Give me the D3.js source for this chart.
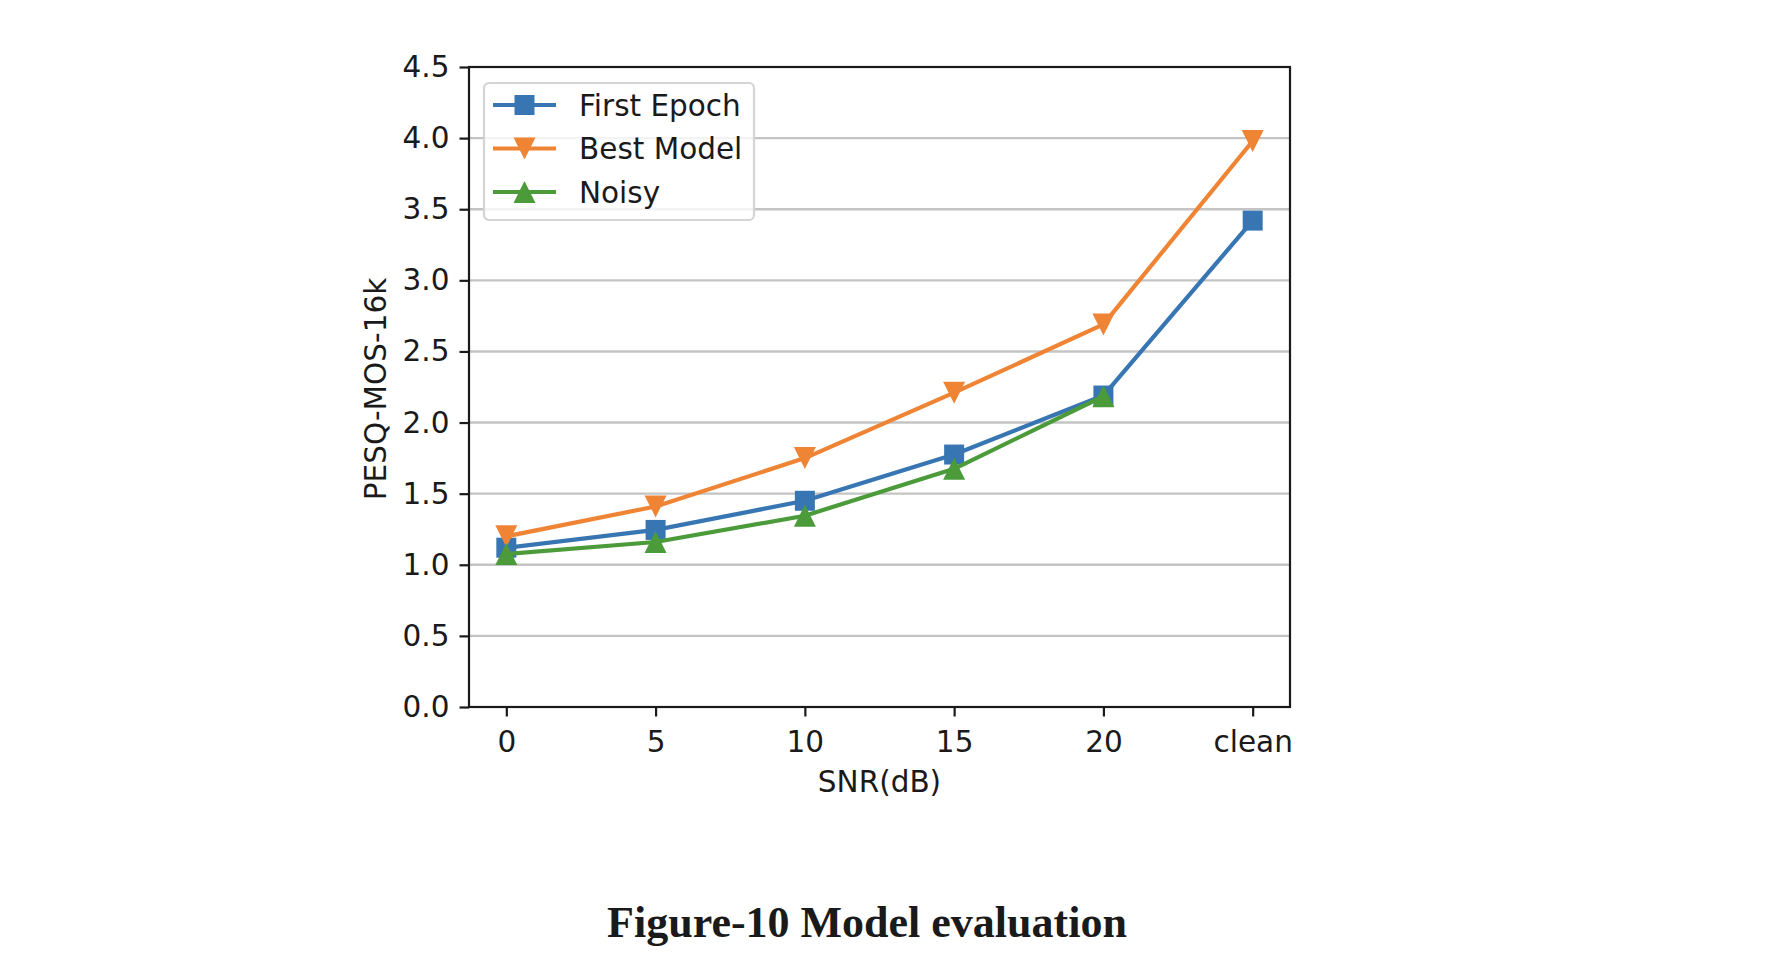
<!DOCTYPE html>
<html>
<head>
<meta charset="utf-8">
<script src="https://cdn.jsdelivr.net/npm/d3@7"></script>
<style>
  body { margin: 0; background: #fff; }
  text { font-family: "DejaVu Sans", sans-serif; fill: #1a1a1a; }
</style>
</head>
<body>
<div id="chart"></div>
<script>

// chart values
var categories = ["0", "5", "10", "15", "20", "clean"];
var firstEpoch = [1.12, 1.245, 1.45, 1.775, 2.19, 3.42];
var bestModel  = [1.2, 1.41, 1.75, 2.21, 2.69, 3.98];
var noisy      = [1.075, 1.16, 1.345, 1.675, 2.185];
var yTicks     = [0, 0.5, 1, 1.5, 2, 2.5, 3, 3.5, 4, 4.5];

var seriesNames  = ["First Epoch", "Best Model", "Noisy"];
var seriesColors = ["#3776b2", "#ee8434", "#4b9b3b"];
var seriesShapes = ["square", "down", "up"];

var W = 1774, H = 972;
var fontSize = "29.5px";
var margin = {top: 67, right: 484, bottom: 265, left: 469},
    width = W - margin.left - margin.right,
    height = H - margin.top - margin.bottom;

var svg = d3.select("#chart").append("svg")
    .attr("width", W)
    .attr("height", H);

var g = svg.append("g")
    .attr("transform", "translate(" + margin.left + "," + margin.top + ")");

// categories sit on integer positions with a quarter step of padding
var x = d3.scaleLinear()
    .domain([-0.25, categories.length - 1 + 0.25])
    .range([0, width]);

var y = d3.scaleLinear()
    .domain([0, 4.5])
    .range([height, 0]);

// horizontal grid
g.append("g")
    .attr("class", "grid")
    .selectAll("line")
    .data(yTicks.filter(function(d){ return d > 0 && d < 4.5; }))
    .enter()
    .append("line")
    .attr("x1", 0)
    .attr("x2", width)
    .attr("y1", function(d){ return y(d); })
    .attr("y2", function(d){ return y(d); })
    .attr("stroke", "#c4c4c4")
    .attr("stroke-width", 2.4);

var xAxis = d3.axisBottom(x)
    .tickValues(d3.range(categories.length))
    .tickFormat(function(i){ return categories[i]; })
    .tickSize(9.5)
    .tickPadding(13);

var yAxis = d3.axisLeft(y)
    .tickValues(yTicks)
    .tickFormat(d3.format(".1f"))
    .tickSize(9.5)
    .tickPadding(10);

var gx = g.append("g")
    .attr("transform", "translate(0," + height + ")")
    .call(xAxis);

var gy = g.append("g")
    .call(yAxis);

[gx, gy].forEach(function(ax){
    ax.select(".domain").remove();
    ax.selectAll(".tick line").attr("stroke", "#1a1a1a").attr("stroke-width", 2.2);
    ax.selectAll(".tick text")
        .style("font-family", "DejaVu Sans")
        .style("font-size", fontSize)
        .attr("fill", "#1a1a1a");
});
gx.selectAll(".tick text").attr("dy", "0.76em");

// series
var allSeries = [firstEpoch, bestModel, noisy];

var line = d3.line()
    .x(function(d, i){ return x(i); })
    .y(function(d){ return y(d); });

var symbolFor = function(shape, size){
    var h = size / 2;
    if (shape === "square") {
        return "M" + (-h) + "," + (-h) + "H" + h + "V" + h + "H" + (-h) + "Z";
    }
    if (shape === "down") {
        return "M" + (-h) + "," + (-h) + "L" + h + "," + (-h) + "L0," + h + "Z";
    }
    return "M" + (-h) + "," + h + "L" + h + "," + h + "L0," + (-h) + "Z";
};

allSeries.forEach(function(vals, k){
    var s = g.append("g").attr("class", "series");
    s.append("path")
        .datum(vals)
        .attr("fill", "none")
        .attr("stroke", seriesColors[k])
        .attr("stroke-width", 4.2)
        .attr("stroke-linejoin", "round")
        .attr("d", line);
    s.selectAll(".marker")
        .data(vals)
        .enter()
        .append("path")
        .attr("class", "marker")
        .attr("transform", function(d, i){ return "translate(" + x(i) + "," + y(d) + ")"; })
        .attr("d", symbolFor(seriesShapes[k], seriesShapes[k] === "square" ? 20 : 22))
        .attr("fill", seriesColors[k]);
});

// frame
g.append("rect")
    .attr("width", width)
    .attr("height", height)
    .attr("fill", "none")
    .attr("stroke", "#1a1a1a")
    .attr("stroke-width", 2.2);

// legend
var legend = g.append("g")
    .attr("transform", "translate(15,16)");

legend.append("rect")
    .attr("width", 270)
    .attr("height", 137)
    .attr("rx", 5)
    .attr("fill", "#fff")
    .attr("fill-opacity", 0.8)
    .attr("stroke", "#d4d4d4")
    .attr("stroke-width", 2.2);

var items = legend.selectAll(".item")
    .data(seriesNames)
    .enter()
    .append("g")
    .attr("class", "item")
    .attr("transform", function(d, i){ return "translate(0," + (22 + i * 43.5) + ")"; });

items.append("line")
    .attr("x1", 9)
    .attr("x2", 72)
    .attr("stroke", function(d, i){ return seriesColors[i]; })
    .attr("stroke-width", 4.2);

items.append("path")
    .attr("transform", "translate(40.5,0)")
    .attr("d", function(d, i){ return symbolFor(seriesShapes[i], seriesShapes[i] === "square" ? 20 : 22); })
    .attr("fill", function(d, i){ return seriesColors[i]; });

items.append("text")
    .attr("x", 95)
    .attr("dy", "0.36em")
    .style("font-size", fontSize)
    .text(function(d){ return d; });

// axis titles
g.append("text")
    .attr("x", width / 2)
    .attr("y", height + 85)
    .attr("text-anchor", "middle")
    .style("font-size", fontSize)
    .text("SNR(dB)");

g.append("text")
    .attr("transform", "translate(-83," + (height / 2 + 2) + ") rotate(-90)")
    .attr("text-anchor", "middle")
    .style("font-size", fontSize)
    .text("PESQ-MOS-16k");

// caption
svg.append("text")
    .attr("x", 867)
    .attr("y", 937)
    .attr("text-anchor", "middle")
    .style("font-family", "'Liberation Serif', 'Times New Roman', serif")
    .style("font-weight", "bold")
    .style("font-size", "44px")
    .attr("fill", "#000")
    .text("Figure-10 Model evaluation");

</script>
</body>
</html>
